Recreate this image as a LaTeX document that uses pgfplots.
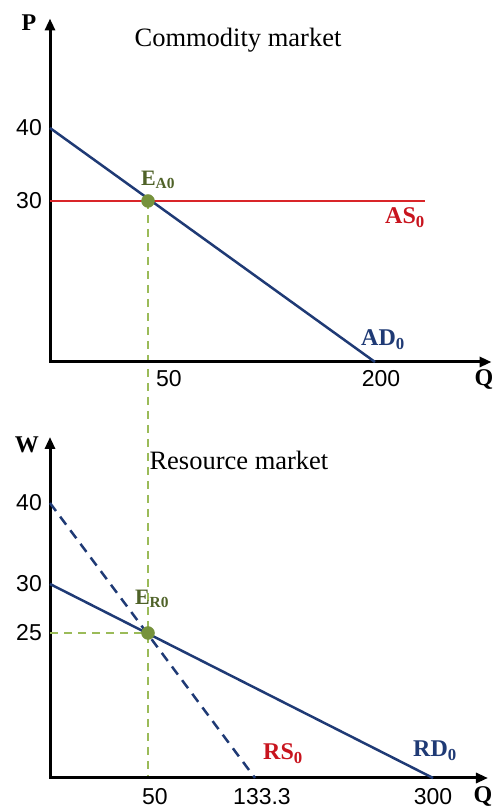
\documentclass[border=0pt]{standalone}
\usepackage{pgfplots}
\pgfplotsset{compat=1.18}
\usepackage{fontspec}
\setmainfont{Liberation Serif}
\newfontfamily\tickfont{Liberation Sans}
\usetikzlibrary{arrows.meta}
\pgfdeclarelayer{background}
\pgfsetlayers{background,main}
\definecolor{navy}{HTML}{1F3A75}
\definecolor{ared}{HTML}{D92529}
\definecolor{lred}{HTML}{C8141E}
\definecolor{lgreen}{HTML}{9BBB59}
\definecolor{dgreen}{HTML}{76923C}
\definecolor{tgreen}{HTML}{4F6228}
\begin{document}
\begin{tikzpicture}[x=1pt,y=1pt]
\path[use as bounding box] (0,0) rectangle (493,809);
\pgfplotsset{
  econ/.style={
    x=1pt, y=1pt, anchor=origin,
    axis lines=left, clip=false,
    axis line style={line width=3pt, line cap=rect},
    x axis line style={-{Triangle[length=12pt,width=10pt]}},
    y axis line style={-{Triangle[length=12pt,width=10pt]}},
    major tick length=0pt,
    tick style={draw=none},
    tick label style={font=\fontsize{23}{23}\tickfont},
    xticklabel style={anchor=north, inner sep=0pt, yshift=-8pt},
    yticklabel style={anchor=east, inner sep=0pt, xshift=-8pt},
  }
}
% ---------------- Commodity market ----------------
\begin{axis}[econ, at={(50,447)},
  x coord trafo/.code={\pgfmathparse{ifthenelse(#1<50, #1*1.96, 98+(#1-50)*1.5133)}},
  y coord trafo/.code={\pgfmathparse{ifthenelse(#1<30, #1*5.3667, 161+(#1-30)*7.3)}},
  xmin=0, xmax=277, ymin=0, ymax=55,
  xtick={50,200}, xticklabels={\kern42pt 50, \kern12pt 200},
  ytick={30,40}, yticklabels={30,40},
]
\addplot[navy, line width=2.5pt] coordinates {(0,40) (200,0)};
\addplot[ared, line width=2.5pt] coordinates {(0,30) (233,30)};
\addplot[only marks, mark=*, mark size=6.5pt, mark options={fill=dgreen, draw=dgreen}] coordinates {(50,30)};
\coordinate (EA) at (axis cs:50,30);
\end{axis}
% ---------------- Resource market ----------------
\begin{axis}[econ, at={(50,31)},
  x coord trafo/.code={\pgfmathparse{ifthenelse(#1<50, #1*1.96, ifthenelse(#1<133.3, 98+(#1-50)*1.2845, 205+(#1-133.3)*1.0678))}},
  y coord trafo/.code={\pgfmathparse{ifthenelse(#1<25, #1*5.8, ifthenelse(#1<30, 145+(#1-25)*9.8, 194+(#1-30)*8.1))}},
  xmin=0, xmax=351.5, ymin=0, ymax=48.15,
  xtick={50,133.3,300}, xticklabels={\kern14pt 50, \kern14pt 133.3, 300},
  ytick={25,30,40}, yticklabels={25,30,40},
  xticklabel style={yshift=-2pt},
]
\addplot[lgreen, line width=2.5pt, dash pattern=on 8pt off 6pt] coordinates {(0,25) (50,25)};
\addplot[navy, line width=2.5pt] coordinates {(0,30) (300,0)};
\addplot[navy, line width=2.5pt, dash pattern=on 10pt off 7pt] coordinates {(0,40) (133.3,0)};
\addplot[only marks, mark=*, mark size=6.5pt, mark options={fill=dgreen, draw=dgreen}] coordinates {(50,25)};
\coordinate (RB) at (axis cs:50,0);
\end{axis}
\begin{pgfonlayer}{background}
\draw[lgreen, line width=2.5pt, dash pattern=on 8pt off 6pt] (EA) -- (RB);
\end{pgfonlayer}
% ---------------- Texts ----------------
\node[font=\fontsize{24}{24}\selectfont\bfseries] at (29,786) {P};
\node[font=\fontsize{24}{24}\selectfont\bfseries] at (27,364) {W};
\node[font=\fontsize{24}{24}\selectfont\bfseries] at (484,429) {Q};
\node[font=\fontsize{24}{24}\selectfont\bfseries] at (483,12) {Q};
\node[font=\fontsize{26.5}{26.5}\selectfont] at (238,769) {Commodity market};
\node[font=\fontsize{26.5}{26.5}\selectfont, anchor=west] at (146,349) {Resource market};
\node[font=\fontsize{22}{22}\selectfont\bfseries, text=tgreen] at (158,629) {E\textsubscript{A0}};
\node[font=\fontsize{22}{22}\selectfont\bfseries, text=tgreen] at (152,210) {E\textsubscript{R0}};
\node[font=\fontsize{24}{24}\selectfont\bfseries, text=lred] at (405,591) {AS\textsubscript{0}};
\node[font=\fontsize{24}{24}\selectfont\bfseries, text=navy] at (383,469) {AD\textsubscript{0}};
\node[font=\fontsize{24}{24}\selectfont\bfseries, text=lred] at (283,55) {RS\textsubscript{0}};
\node[font=\fontsize{24}{24}\selectfont\bfseries, text=navy] at (435,58) {RD\textsubscript{0}};
\end{tikzpicture}
\end{document}
